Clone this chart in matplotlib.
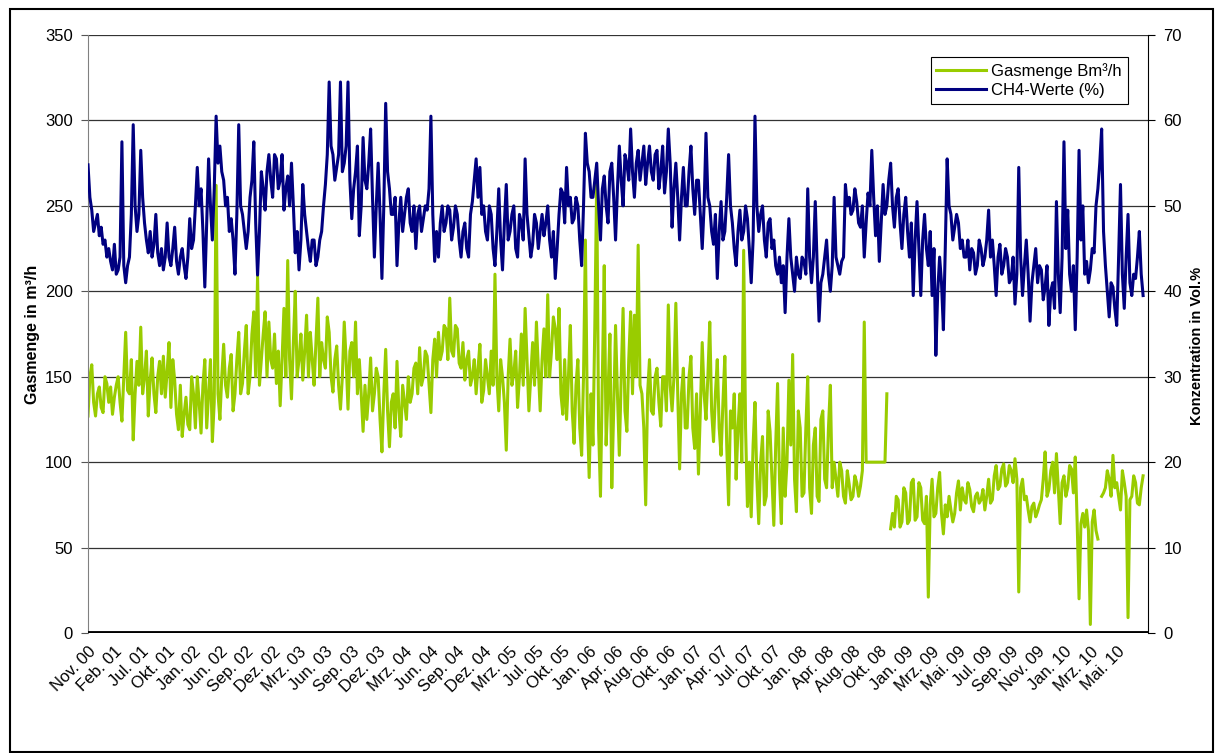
import matplotlib.pyplot as plt
import numpy as np
from matplotlib.patches import Rectangle

plt.rcParams['font.family'] = ['Liberation Sans', 'DejaVu Sans']

nan = np.nan

# Beschriftung der Kategorienachse (jede 14. Messung)
labels = ['Nov. 00', 'Feb. 01', 'Jul. 01', 'Okt. 01', 'Jan. 02', 'Jun. 02', 'Sep. 02', 'Dez. 02',
          'Mrz. 03', 'Jun. 03', 'Sep. 03', 'Dez. 03', 'Mrz. 04', 'Jun. 04', 'Sep. 04', 'Dez. 04',
          'Mrz. 05', 'Jul. 05', 'Okt. 05', 'Jan. 06', 'Apr. 06', 'Aug. 06', 'Okt. 06', 'Jan. 07',
          'Apr. 07', 'Jul. 07', 'Okt. 07', 'Jan. 08', 'Apr. 08', 'Aug. 08', 'Okt. 08', 'Jan. 09',
          'Mrz. 09', 'Mai. 09', 'Jul. 09', 'Sep. 09', 'Nov. 09', 'Jan. 10', 'Mrz. 10', 'Mai. 10']

# Gasmenge in m³/h (linke Achse)
gas = [127, 150, 157, 135, 127, 140, 144, 132, 129, 150, 146, 135, 144, 128, 138, 145,
       150, 135, 124, 150, 176, 142, 140, 160, 113, 140, 159, 145, 179, 140, 150, 165,
       127, 148, 161, 140, 129, 150, 159, 140, 162, 138, 153, 170, 132, 160, 148, 128,
       119, 145, 115, 128, 138, 122, 119, 150, 140, 120, 150, 135, 117, 145, 160, 120,
       140, 160, 112, 135, 262, 140, 125, 150, 169, 145, 138, 155, 163, 130, 140, 160,
       176, 140, 146, 165, 180, 140, 150, 175, 188, 150, 209, 145, 160, 175, 188, 150,
       182, 160, 155, 175, 146, 165, 133, 160, 190, 150, 218, 160, 137, 170, 200, 150,
       160, 175, 148, 165, 186, 150, 176, 160, 145, 170, 196, 150, 170, 160, 155, 185,
       176, 150, 141, 160, 168, 145, 131, 150, 182, 160, 131, 165, 170, 150, 182, 140,
       160, 140, 118, 145, 125, 140, 161, 130, 140, 155, 150, 125, 106, 140, 166, 130,
       109, 135, 140, 120, 159, 130, 115, 145, 135, 125, 150, 135, 140, 155, 158, 140,
       167, 145, 150, 165, 162, 145, 129, 160, 172, 150, 176, 160,
       165, 180, 178, 160, 196, 165, 162, 180, 178, 158, 155, 170, 148, 160, 165, 145,
       150, 160, 140, 155, 169, 135, 142, 160, 150, 140, 165, 145, 210, 150, 130, 160,
       150, 135, 107, 150, 172, 145, 152, 165, 132, 150, 175, 145, 190, 160, 130, 150,
       170, 145, 182, 155, 130, 160, 178, 150, 198, 150, 165, 185, 178, 160, 190, 140,
       128, 160, 125, 150, 180, 130, 111, 145, 160, 120, 104, 150, 230, 130, 91, 140,
       110, 180, 265, 120, 80, 150, 215, 110, 140, 175, 85, 130, 180, 140,
       104, 150, 190, 130, 118, 160, 188, 140, 186, 150, 227, 145, 140, 120, 75, 140,
       160, 130, 128, 150, 155, 135, 121, 150, 150, 130, 192, 145, 130, 150, 193, 140,
       96, 140, 155, 120, 120, 150, 162, 120, 108, 140, 93, 130, 170, 140, 125, 150,
       182, 130, 112, 140, 160, 120, 104, 135, 162, 110, 75, 130, 120, 140, 90, 120,
       140, 100, 224, 120, 74, 100, 68, 110, 135, 90, 64, 100, 115, 75, 80, 130,
       118, 90, 63, 110, 146, 90, 64, 120, 80, 100, 148, 110,
       163, 90, 71, 130, 120, 80, 82, 120, 150, 85, 70, 110, 120, 80, 77, 125,
       130, 90, 85, 120, 145, 85, 100, 90, 80, 100, 95, 80, 76, 95, 87, 78,
       80, 92, 88, 80, 86, 95, 182, 100, 100, 100, 100, 100, 100, 100, 100, 100,
       100, 100, 140, nan, 61, 70, 62, 80, 78, 62, 65, 85, 82, 64, 66, 88,
       90, 66, 68, 88, 85, 66, 64, 80, 21, 75, 90, 68, 70, 85, 94, 70,
       58, 75, 68, 80, 72, 65, 70, 82, 89, 72, 85, 78,
       76, 88, 84, 74, 71, 80, 82, 76, 78, 84, 72, 80, 90, 76, 78, 92,
       98, 84, 86, 96, 99, 86, 88, 98, 95, 88, 102, 90, 24, 85, 90, 78,
       80, 72, 65, 74, 76, 68, 71, 75, 78, 90, 106, 80, 84, 95, 100, 82,
       105, 85, 64, 88, 92, 80, 85, 98, 96, 82, 103, 65, 20, 64, 70, 62,
       72, 60, 5, 65, 72, 60, 55, nan, 80, 82, 85, 95, 90, 80, 104, 85,
       88, 80, 72, 95, 88, 80, 9, 78, 80, 92, 88, 76, 75, 85, 92]

# CH4-Konzentration in Vol.% (rechte Achse)
ch4 = [54.8, 51, 49.5, 47, 48, 49, 46.5, 47.5, 45.5, 46, 44, 45, 43.5, 42.5, 45.5, 42,
       42.5, 44, 57.5, 43, 41, 43, 44, 49, 59.5, 50, 47, 49, 56.5, 51, 48, 46,
       44.5, 47, 44, 45.5, 49, 44.5, 43, 45, 42.5, 44, 48, 44, 43, 45, 47.5, 43.5,
       42, 44, 45, 43, 41.5, 44, 48.5, 45, 46, 50, 54.5, 50, 52, 47, 40.5, 48,
       55.5, 50, 46, 52, 60.5, 55, 57, 54, 53, 50, 51, 47, 48.5, 46, 42, 49,
       59.5, 50, 49, 47, 45, 47, 51, 53, 57.5, 48, 41.9, 47, 54, 52, 49.5, 54,
       56, 53, 51, 56, 55.5, 52, 53, 56, 49.5, 52, 53.5, 50, 55, 50, 44.5, 47,
       42.5, 46, 52.5, 49, 47, 45, 43.5, 46, 46, 43, 44, 46, 47, 50, 52.5, 56,
       64.5, 57, 56, 53, 54.5, 56, 64.5, 54, 55, 57, 64.5, 53, 48.5, 52, 54, 57,
       46.5, 50, 58, 53, 52, 55, 59, 51, 44, 50, 55, 49, 41.5, 50, 62, 54,
       52, 49, 49, 51, 43, 48, 51, 47, 49, 51, 52, 48, 47, 50, 45, 49,
       50, 47, 48.5, 50, 49.5, 52, 60.5, 49, 43.5, 47, 44, 48,
       50, 47, 48, 50, 49.5, 46, 47.5, 50, 49, 46, 44, 47, 48, 45, 44, 49,
       50.5, 53, 55.5, 51, 54.5, 49, 50, 47, 46, 50, 49, 45, 43, 47, 52, 46,
       42.5, 48, 52.5, 46, 47, 49, 50, 45, 44, 49, 48, 46, 55.5, 49, 46.5, 44,
       45.5, 49, 48, 45, 47, 49, 46.5, 48, 50, 46, 44, 47, 41.5, 45, 49, 52,
       51.5, 48, 54.5, 50, 51, 48, 48.5, 51, 50, 46, 43, 50, 58.5, 55, 54, 51,
       51, 53, 55, 50, 46, 52, 53.5, 50, 48, 54, 55, 51, 46, 52,
       57, 53, 50, 56, 55, 53, 59, 54, 51, 55, 56.5, 53, 55, 57, 52.5, 55,
       57, 54, 53, 56, 56.5, 52, 54, 57, 51.5, 54, 59, 55, 47.5, 52, 55, 51,
       46, 51, 54.5, 50, 50, 54, 57, 52, 49, 53, 53, 49, 45, 50, 58.5, 51,
       50, 47, 45.5, 49, 41.5, 47, 50.5, 46, 47, 51, 56, 50, 48, 45, 43, 47,
       49.5, 46, 47, 50, 48.5, 45, 41, 46, 60.5, 50, 47, 49, 50, 46, 44, 48,
       48.5, 45, 46, 43, 42, 44, 41, 43, 37.5, 44, 48.5, 44,
       42, 40, 44, 42, 41.5, 44, 43.5, 42, 52, 44, 41, 44, 50.5, 43, 36.5, 41,
       42, 44, 46, 42, 40, 43, 51, 44, 43, 42, 43.5, 44, 52.5, 50, 51, 49,
       49.5, 52, 50.5, 48, 47.5, 50, 44, 48, 51.5, 50, 56.5, 51, 46.5, 50, 43.5, 48,
       52.5, 49, 50, 53, 55, 50, 47.5, 51, 52, 48, 45, 49, 51, 47, 44, 48,
       39.5, 46, 50.5, 45, 39.5, 46, 49, 45, 43, 47, 39.5, 45, 32.5, 40, 44, 41,
       35.5, 45, 55.5, 50, 49, 46, 47.5, 49, 48, 45, 46, 44,
       44, 46, 42.5, 45, 44.5, 42, 43, 46, 45, 43, 44, 46, 49.5, 44, 46, 43,
       39.5, 44, 45.5, 42, 43, 45, 44, 41, 41.5, 44, 38.5, 42, 54.5, 44, 39.5, 43,
       46, 42, 36.5, 41, 43, 45, 41, 43, 42.5, 39, 40.5, 43, 36, 40, 41, 38,
       50.5, 42, 37.5, 44, 57.5, 45, 49.5, 42, 40, 43, 35.5, 44, 56.5, 46, 50, 42,
       43.5, 41, 42.5, 45, 44.5, 50, 52, 55, 59, 47, 43, 40, 37, 41, 40.5, 38,
       36, 44, 52.5, 42, 38, 44, 49, 41, 39.5, 42, 41.5, 44, 47, 42, 39.5]

x = np.arange(len(gas))
tick_pos = np.arange(len(labels)) * 14

fig = plt.figure(figsize=(12.15, 7.53), dpi=100)
ax = fig.add_axes([88 / 1215, 120 / 753, 1060 / 1215, 598 / 753])
ax2 = ax.twinx()

l1, = ax.plot(x, gas, color='#99cc00', lw=2.2, label='Gasmenge Bm³/h')
l2, = ax2.plot(x, ch4, color='#000080', lw=2.2, label='CH4-Werte (%)')
ax2.axhline(0, color='black', lw=3.5, zorder=5)

ax.set_xlim(0, len(x) + 1.6)
ax.set_ylim(0, 350)
ax2.set_ylim(0, 70)
ax.set_yticks(range(0, 351, 50))
ax2.set_yticks(range(0, 71, 10))
ax.grid(axis='y', color='#333333', lw=0.9)
ax.set_axisbelow(True)

ax.set_xticks(tick_pos)
ax.set_xticklabels(labels, rotation=45, ha='right', rotation_mode='anchor')
ax.tick_params(axis='x', length=0, pad=8, labelsize=12)
ax.tick_params(axis='y', labelsize=12, length=5, color='#555555', pad=6)
ax2.tick_params(axis='y', labelsize=12, length=5, color='black', pad=6)

for a in (ax, ax2):
    a.spines['top'].set_visible(False)
    a.spines['bottom'].set_visible(False)
ax.spines['left'].set_color('#808080')
ax2.spines['left'].set_visible(False)
ax.spines['right'].set_visible(False)
ax2.spines['right'].set_color('black')

ax.set_ylabel('Gasmenge in m³/h', fontweight='bold', fontsize=11.5)
ax.yaxis.set_label_coords(-0.045, 0.5)
ax2.set_ylabel('Konzentration in Vol.%', fontweight='bold', fontsize=10.5)
ax2.yaxis.set_label_coords(1.04, 0.48)

leg = ax2.legend([l1, l2], [l1.get_label(), l2.get_label()], loc='upper right',
                 bbox_to_anchor=(0.981, 0.963), borderaxespad=0, fancybox=False,
                 edgecolor='black', framealpha=1, fontsize=12, handlelength=3,
                 borderpad=0.35, labelspacing=0.25, handletextpad=0.3)
leg.get_frame().set_linewidth(0.8)

fig.add_artist(Rectangle((10 / 1215, 1 / 753), 1203 / 1215, 743 / 753,
                         transform=fig.transFigure, fill=False, lw=1.5, ec='black'))

fig.savefig('out.png', dpi=100)
